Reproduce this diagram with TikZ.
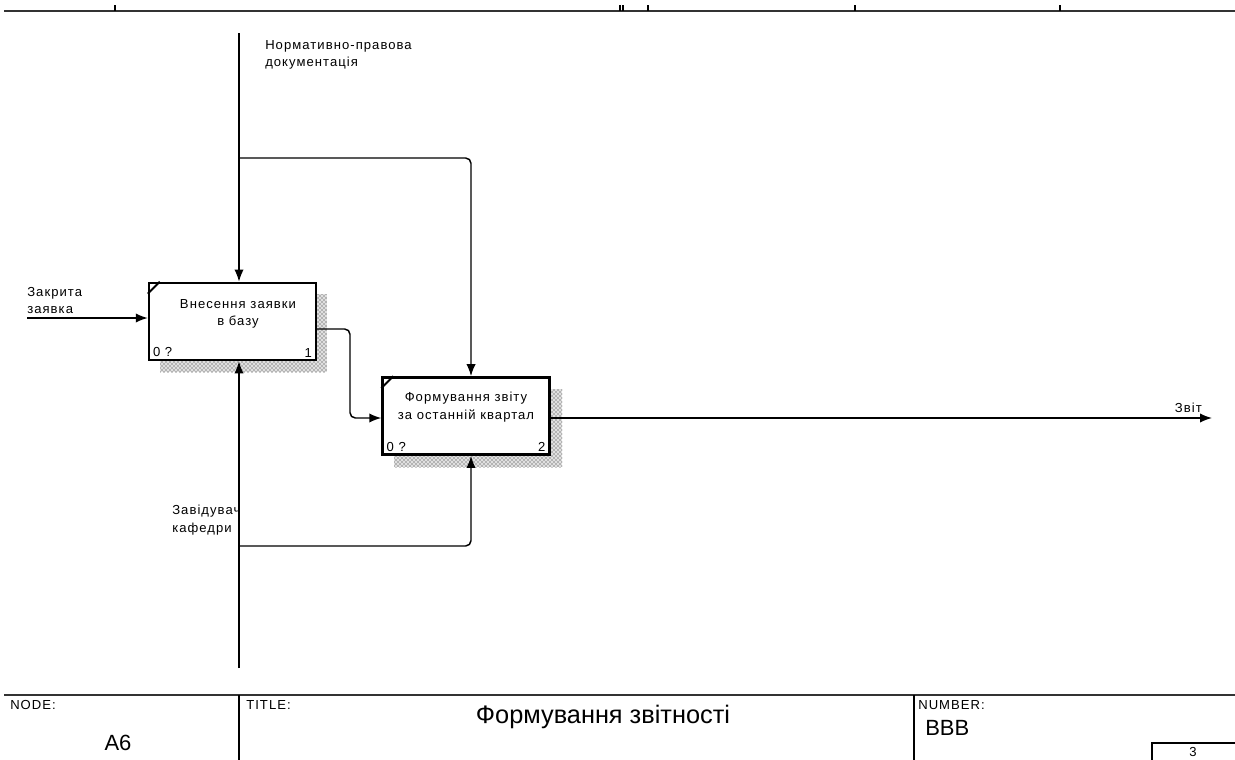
\documentclass[tikz,border=0pt]{standalone}
\usepackage{fontspec}
\setmainfont{Liberation Sans}
\newfontfamily\lbl[LetterSpace=8]{Liberation Sans}
\usetikzlibrary{arrows.meta,patterns,calc}
\begin{document}
\begin{tikzpicture}[x=0.75pt,y=-0.75pt,
  conn/.style={line width=1.1pt, rounded corners=4pt},
  arr/.style={conn,-{Latex[length=9pt,width=7pt]}},
  box/.style={draw, line width=1.8pt, fill=white, minimum width=125.25pt, minimum height=58pt, inner sep=0pt},
  shadow/.style={fill=black!12, postaction={pattern=crosshatch dots, pattern color=black!85}},
  txt/.style={font=\lbl\fontsize{9.8}{13}\selectfont, inner sep=0pt, align=left},
  btxt/.style={font=\lbl\fontsize{9.8}{13}\selectfont, inner sep=0pt, align=center},
  frame/.style={line width=1.2pt, draw=black!80}]
\useasboundingbox (0,0) rectangle (1235,760);
% top frame
\draw[frame] (4,11) -- (1235,11);
\foreach \xx in {115,620,623,648,855,1060} \draw[line width=0.8pt] (\xx,5) -- (\xx,11);
% shadows
\path[shadow] (160,294) rectangle (327,372);
\path[shadow] (394,389) rectangle (562,467);
% boxes
\node[box] (b1) at (232.5,321.5) {};
\node[box] (b2) at (466,416) {};
\draw[line width=1.4pt] ($(b1.north west)+(0,12)$) -- ($(b1.north west)+(12,0)$);
\draw[line width=1.4pt] ($(b2.north west)+(0,12)$) -- ($(b2.north west)+(12,0)$);
\node[btxt] (b1t) at (238,314) {Внесення заявки\\в базу};
\node[btxt] (b2t) at (466,407) {Формування звіту\\за останній квартал};
\node[txt, anchor=south west] (b1a) at ($(b1.south west)+(5,-4)$) {0 ?};
\node[txt, anchor=south east] (b1n) at ($(b1.south east)+(-5,-4)$) {1};
\node[txt, anchor=south west] (b2a) at ($(b2.south west)+(5,-4)$) {0 ?};
\node[txt, anchor=south east] (b2n) at ($(b2.south east)+(-5,-4)$) {2};
% coordinates
\coordinate (inL) at (27,318);
\coordinate (ctlTop) at (239,33);
\coordinate (ctlSplit) at (239,158);
\coordinate (ctlBend) at (471,158);
\coordinate (mechBot) at (239,668);
\coordinate (mechSplit) at (239,546);
\coordinate (mechBend) at (471,546);
\coordinate (linkA) at (350,329);
\coordinate (linkB) at (350,418);
\coordinate (outR) at (1212,418);
% input
\draw[arr] (inL) -- (inL -| b1.west);
\node[txt, anchor=south west] (inlbl) at (27,314) {Закрита\\заявка};
% control
\draw[arr] (ctlTop) -- (ctlTop |- b1.north);
\draw[arr] (ctlSplit) -- (ctlBend) -- (ctlBend |- b2.north);
\node[txt, anchor=north west] (ctllbl) at (265,40) {Нормативно-правова\\документація};
% mechanism
\draw[arr] (mechBot) -- (mechBot |- b1.south);
\draw[arr] (mechSplit) -- (mechBend) -- (mechBend |- b2.south);
\node[txt, anchor=north west] (mechlbl) at (172,505) {Завідувач\\кафедри};
% output b1 -> b2
\draw[arr] (b1.east |- linkA) -- (linkA) -- (linkB) -- (b2.west |- linkB);
% output
\draw[arr] (b2.east |- outR) -- (outR);
\node[txt, anchor=south east] (outlbl) at (1202,413) {Звіт};
% bottom frame
\draw[frame] (4,695) -- (1235,695);
\draw[line width=1pt] (239,695) -- (239,760);
\draw[line width=1pt] (914,695) -- (914,760);
\draw[line width=0.8pt] (1152,760) -- (1152,743) -- (1235,743);
\node[txt, anchor=north west] (nodel) at (10,700) {NODE:};
\node[txt, anchor=north west] (titlel) at (246,700) {TITLE:};
\node[txt, anchor=north west] (numl) at (918,700) {NUMBER:};
\node[font=\fontsize{16.5}{18}\selectfont, inner sep=0pt, anchor=base] (nodev) at (118,750) {A6};
\node[font=\fontsize{19}{21}\selectfont, inner sep=0pt, anchor=base] (titlev) at (603,723) {Формування звітності};
\node[font=\fontsize{16.5}{18}\selectfont, inner sep=0pt, anchor=base west] (numv) at (925,735) {BBB};
\node[txt] (pg) at (1193,752) {3};
\end{tikzpicture}
\end{document}
